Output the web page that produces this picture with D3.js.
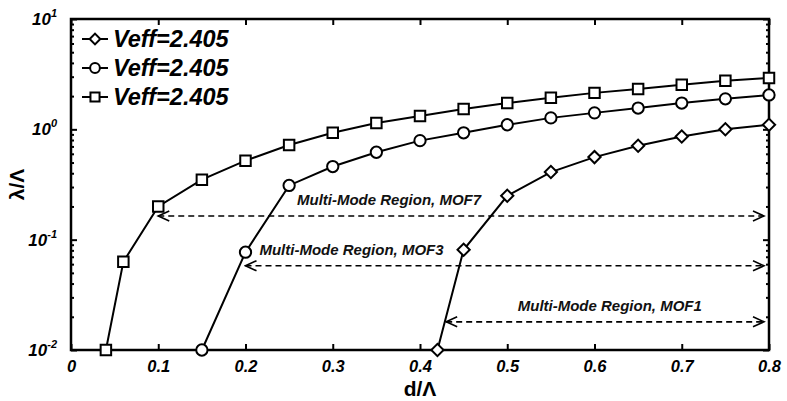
<!DOCTYPE html>
<html>
<head>
<meta charset="utf-8">
<script src="https://cdn.jsdelivr.net/npm/d3@7"></script>
<style>
  body { margin: 0; background: #fff; }
  svg { font-family: "Liberation Sans", Arial, sans-serif; }
</style>
</head>
<body>
<svg id="chart" width="787" height="401"></svg>
<script>
// values
var xMOF7 = [0.04, 0.06, 0.10, 0.15, 0.20, 0.25, 0.30, 0.35, 0.40, 0.45, 0.50, 0.55, 0.60, 0.65, 0.70, 0.75, 0.80];
var yMOF7 = [0.01, 0.063, 0.20, 0.35, 0.52, 0.72, 0.93, 1.14, 1.32, 1.53, 1.73, 1.93, 2.14, 2.32, 2.53, 2.75, 2.92];
var xMOF3 = [0.15, 0.20, 0.25, 0.30, 0.35, 0.40, 0.45, 0.50, 0.55, 0.60, 0.65, 0.70, 0.75, 0.80];
var yMOF3 = [0.01, 0.077, 0.31, 0.46, 0.62, 0.79, 0.93, 1.10, 1.27, 1.41, 1.56, 1.73, 1.89, 2.05];
var xMOF1 = [0.42, 0.45, 0.50, 0.55, 0.60, 0.65, 0.70, 0.75, 0.80];
var yMOF1 = [0.01, 0.081, 0.25, 0.41, 0.56, 0.71, 0.86, 1.00, 1.10];

var legendLabels = ['Veff=2.405', 'Veff=2.405', 'Veff=2.405'];
var xTicks = [0, 0.1, 0.2, 0.3, 0.4, 0.5, 0.6, 0.7, 0.8];
var xTickLabels = ['0', '0.1', '0.2', '0.3', '0.4', '0.5', '0.6', '0.7', '0.8'];
var yTicks = [0.01, 0.1, 1, 10];
var yTickExps = ['-2', '-1', '0', '1'];

// region annotations: label, start x, end x, arrow level
var regionLabels = ['Multi-Mode Region, MOF7', 'Multi-Mode Region, MOF3', 'Multi-Mode Region, MOF1'];
var regionStart = [0.10, 0.20, 0.43];
var regionEnd = [0.80, 0.80, 0.80];
var regionLevel = [0.164, 0.058, 0.018];
var regionLabelX = [0.259, 0.216, 0.512];

var margin = { left: 71, right: 18, top: 19, bottom: 51 };
var W = 787, H = 401;
var svg = d3.select('#chart');

var x = d3.scaleLinear().domain([0, 0.8]).range([margin.left, W - margin.right]);
var y = d3.scaleLog().domain([0.01, 10]).range([H - margin.bottom, margin.top]);

// minor ticks on the log axis
var minor = [];
[0.01, 0.1, 1].forEach(function (d) {
  for (var k = 2; k <= 9; k++) minor.push(d * k);
});

var gAx = svg.append('g');
// bottom axis
gAx.append('g')
  .attr('transform', 'translate(0,' + y(0.01) + ')')
  .call(d3.axisBottom(x).tickValues(xTicks).tickSize(-6).tickPadding(10)
    .tickFormat(function (d, i) { return xTickLabels[i]; }))
  .call(function (g) {
    g.select('.domain').remove();
    g.selectAll('line').attr('stroke-width', 2);
    g.selectAll('text').attr('font-size', 16.5).attr('font-weight', 'bold')
      .attr('font-style', 'italic').attr('fill', '#000');
  });
// top axis
gAx.append('g')
  .attr('transform', 'translate(0,' + y(10) + ')')
  .call(d3.axisTop(x).tickValues(xTicks).tickSize(-6).tickFormat(''))
  .call(function (g) { g.select('.domain').remove(); g.selectAll('line').attr('stroke-width', 2); });

// left / right axes
[['left', margin.left], ['right', W - margin.right]].forEach(function (s) {
  var ax = s[0] === 'left' ? d3.axisLeft : d3.axisRight;
  var g = gAx.append('g').attr('transform', 'translate(' + s[1] + ',0)');
  g.append('g').call(ax(y).tickValues(minor).tickSize(-3).tickFormat(''))
    .call(function (a) { a.select('.domain').remove(); a.selectAll('line').attr('stroke-width', 2); });
  g.append('g').call(ax(y).tickValues(yTicks).tickSize(-6).tickFormat(''))
    .call(function (a) { a.select('.domain').remove(); a.selectAll('line').attr('stroke-width', 2); });
});

// y tick labels 10^n
var yl = svg.append('g');
yTicks.forEach(function (d, i) {
  var t = yl.append('text')
    .attr('x', margin.left - 14).attr('y', y(d) + 6)
    .attr('text-anchor', 'end')
    .attr('font-size', 17).attr('font-weight', 'bold').attr('font-style', 'italic');
  t.append('tspan').text('10');
  t.append('tspan').attr('dy', -8).attr('font-size', 11).text(yTickExps[i]);
});

// frame
svg.append('rect')
  .attr('x', x(0)).attr('y', y(10))
  .attr('width', x(0.8) - x(0)).attr('height', y(0.01) - y(10))
  .attr('fill', 'none').attr('stroke', '#000').attr('stroke-width', 2.5);

// axis titles
svg.append('text').attr('x', x(0.4)).attr('y', 396).attr('text-anchor', 'middle')
  .attr('font-size', 21).attr('font-weight', 'bold').text('d/Λ');
svg.append('text').attr('transform', 'translate(24,' + ((y(10) + y(0.01)) / 2) + ') rotate(-90)')
  .attr('text-anchor', 'middle').attr('font-size', 21).attr('font-weight', 'bold').text('λ/Λ');

// arrow heads
var defs = svg.append('defs');
defs.append('marker').attr('id', 'head').attr('viewBox', '-12 -6 14 12')
  .attr('refX', 0).attr('refY', 0).attr('markerWidth', 14).attr('markerHeight', 12)
  .attr('markerUnits', 'userSpaceOnUse').attr('orient', 'auto-start-reverse')
  .append('path').attr('d', 'M-11,-5 L0,0 L-11,5').attr('fill', 'none')
  .attr('stroke', '#000').attr('stroke-width', 1.6);

regionLabels.forEach(function (lab, i) {
  svg.append('line')
    .attr('x1', x(regionStart[i])).attr('x2', x(regionEnd[i]) - 5)
    .attr('y1', y(regionLevel[i])).attr('y2', y(regionLevel[i]))
    .attr('stroke', '#000').attr('stroke-width', 1.6).attr('stroke-dasharray', '6,4')
    .attr('marker-start', 'url(#head)').attr('marker-end', 'url(#head)');
  svg.append('text').attr('x', x(regionLabelX[i])).attr('y', y(regionLevel[i]) - 11)
    .attr('font-size', 15).attr('font-weight', 'bold').attr('font-style', 'italic')
    .attr('fill', '#111').text(lab);
});

// series (diamond = square turned 45 degrees)
var series = [
  { xs: xMOF1, ys: yMOF1, sym: d3.symbolSquare, rot: 45, size: 75 },
  { xs: xMOF3, ys: yMOF3, sym: d3.symbolCircle, rot: 0, size: 100 },
  { xs: xMOF7, ys: yMOF7, sym: d3.symbolSquare, rot: 0, size: 110 }
];
var line = d3.line().x(function (d) { return x(d[0]); }).y(function (d) { return y(d[1]); });

series.forEach(function (s) {
  var pts = d3.zip(s.xs, s.ys);
  svg.append('path').datum(pts).attr('d', line)
    .attr('fill', 'none').attr('stroke', '#000').attr('stroke-width', 2);
  svg.append('g').selectAll('path').data(pts).join('path')
    .attr('transform', function (d) { return 'translate(' + x(d[0]) + ',' + y(d[1]) + ') rotate(' + s.rot + ')'; })
    .attr('d', d3.symbol().type(s.sym).size(s.size))
    .attr('fill', '#fff').attr('stroke', '#000').attr('stroke-width', 2);
});

// legend
var leg = svg.append('g');
series.forEach(function (s, i) {
  var ly = 39 + i * 29;
  leg.append('line').attr('x1', 82).attr('x2', 108).attr('y1', ly).attr('y2', ly)
    .attr('stroke', '#000').attr('stroke-width', 2);
  leg.append('path').attr('transform', 'translate(95,' + ly + ') rotate(' + s.rot + ')')
    .attr('d', d3.symbol().type(s.sym).size(s.size * 0.75))
    .attr('fill', '#fff').attr('stroke', '#000').attr('stroke-width', 2);
  leg.append('text').attr('x', 113).attr('y', ly + 8)
    .attr('font-size', 23.5).attr('font-weight', 'bold').attr('font-style', 'italic')
    .text(legendLabels[i]);
});
</script>
</body>
</html>
